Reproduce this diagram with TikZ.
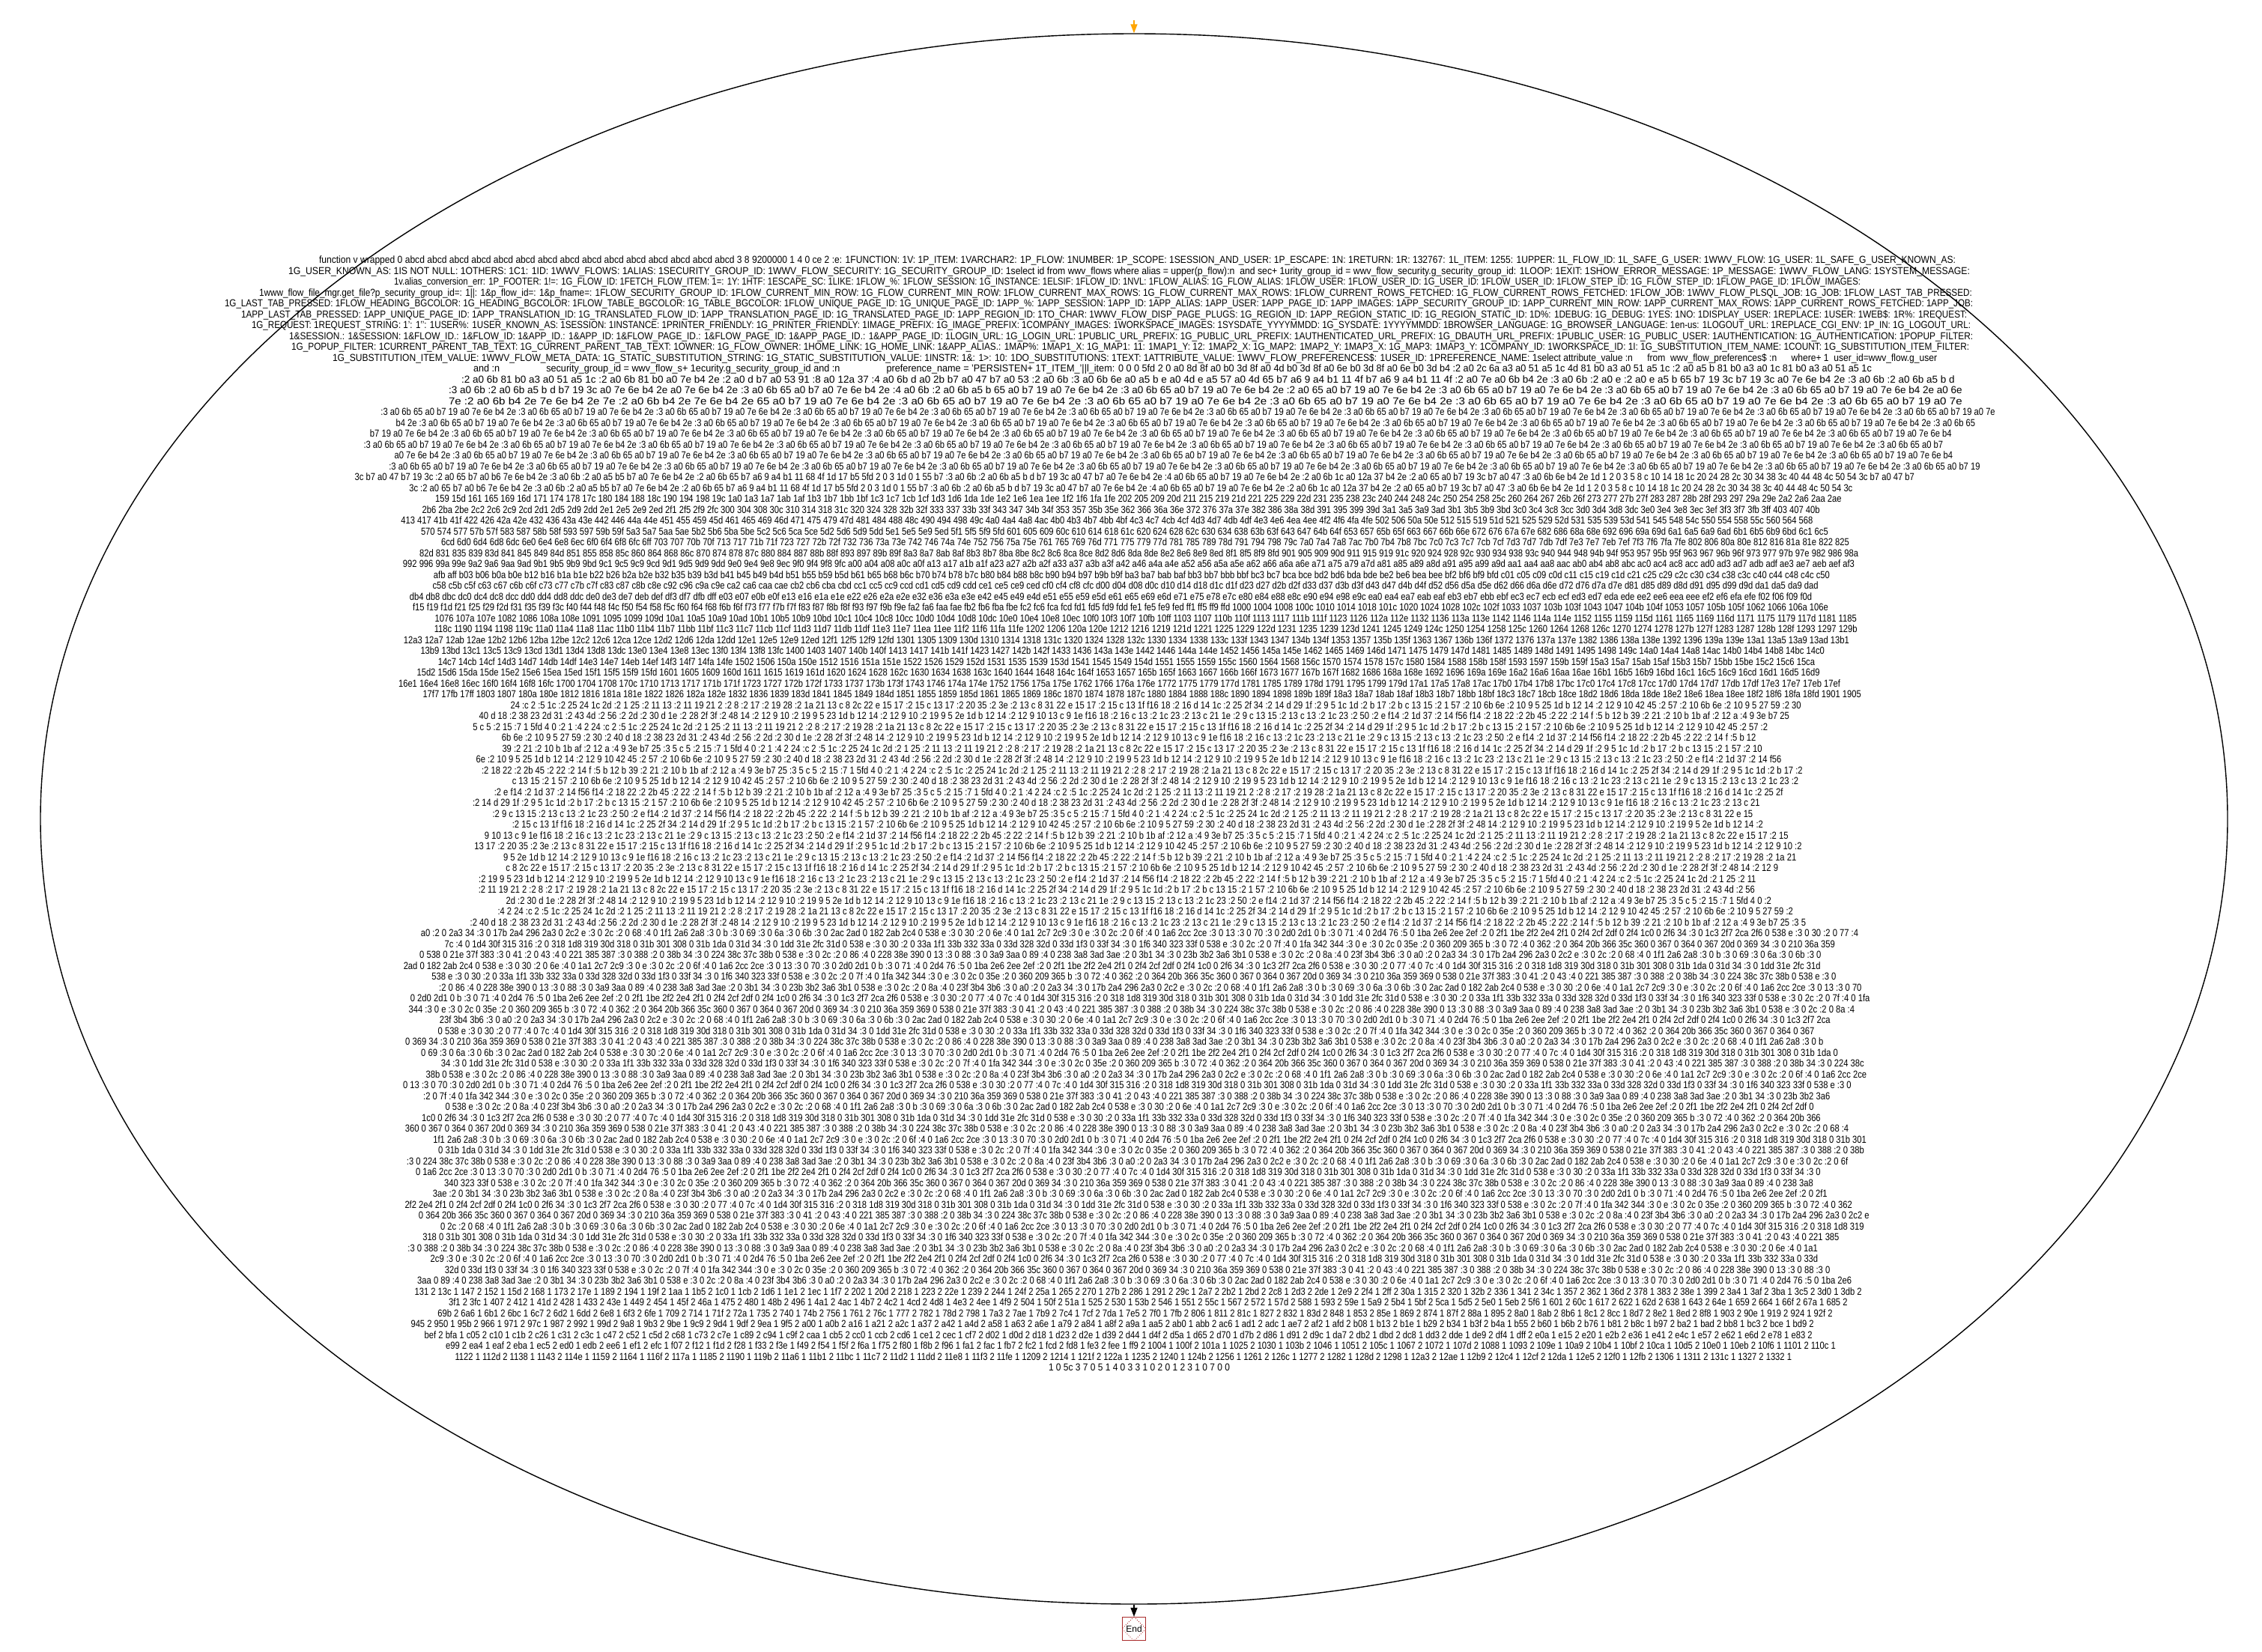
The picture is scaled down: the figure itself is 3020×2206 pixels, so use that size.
\documentclass[tikz,border=0pt]{standalone}
\usepackage{fontspec}
\setmainfont{Liberation Sans}[FakeStretch=0.83]
\newfontfamily\endfont{Liberation Sans}
\usepackage{graphicx}
\usetikzlibrary{shapes.geometric,arrows.meta}
\definecolor{endred}{RGB}{170,45,45}
\definecolor{startor}{RGB}{255,165,0}
\newbox\dumpboxA \newbox\dumpboxB \newdimen\fillwidth \newcount\hexc
\def\hexdigit#1{\ifcase#1 0\or 1\or 2\or 3\or 4\or 5\or 6\or 7\or 8\or 9\or a\or b\or c\or d\or e\or f\fi}
\def\tohex#1{\ifnum#1<16 \hexdigit{#1}\else\expandafter\tohexB\expandafter{\the\numexpr(#1-8)/16\relax}{#1}\fi}
\def\tohexB#1#2{\tohex{#1}\hexdigit{\the\numexpr#2-16*#1\relax}}
\def\tokrot#1 #2\relax{\gdef\curtok{#1}\gdef\toklist{#2 #1}}
\def\listnext{\expandafter\tokrot\toklist\relax}
\def\hexbase{345}\def\hexstep{392}
\def\hexnext{\global\advance\hexc by 1 \xdef\curtok{\noexpand\tohex{\the\numexpr\hexbase+\hexc*\hexstep/100\relax}}}
\def\hexpair{\global\advance\hexc by 1 \xdef\curtok{\noexpand\tohex{\the\numexpr\hexbase+\hexc*\hexstep/100\relax} \ifodd\hexc 1\else 2\fi}}
\let\nexttok\listnext
\def\fillstep{\nexttok
  \setbox\dumpboxB=\hbox{\unhcopy\dumpboxA\curtok\ }%
  \ifdim\wd\dumpboxB<\fillwidth
    \setbox\dumpboxA=\box\dumpboxB
    \expandafter\fillstep
  \fi}
\tikzset{dl/.style={inner sep=0pt, outer sep=0pt, font=\fontsize{13.5}{13.5}\selectfont}}
\newcommand\LY[1]{\pgfmathsetmacro\lny{349+(#1-1)*14.5}}
\newcommand\Ltxt[4]{\LY{#1}\pgfmathsetmacro\lnw{#3-#2}%
  \node[dl,anchor=west] (t#1) at (#2,\lny) {\resizebox{\lnw pt}{\height}{\strut #4}};}
\newcommand\Llist[3]{\LY{#1}\pgfmathsetmacro\lnw{#3-#2}\pgfmathsetmacro\lnx{(#2+#3)/2}%
  \node[dl] (t#1) at (\lnx,\lny) {\fillwidth=\lnw pt\relax\setbox\dumpboxA=\hbox{}\fillstep\hbox to\fillwidth{\hfil\strut\unhbox\dumpboxA\unskip\hfil}};}
\newcommand\Lj[3]{\pgfmathsetmacro\xa{#2+26*sin(#1*97)}\pgfmathsetmacro\xb{#3+34*sin(#1*53+40)}\Llist{#1}{\xa}{\xb}}

\begin{document}
\begin{tikzpicture}[x=1pt,y=-1pt]
\useasboundingbox (0,0) rectangle (3020,2206);
\node[draw, ellipse, line width=1.4pt, minimum width=2920pt, minimum height=2097pt, inner sep=0pt] (blk) at (1514,1093.5) {};

\Ltxt{1}{426}{2611}{function v wrapped 0 abcd abcd abcd abcd abcd abcd abcd abcd abcd abcd abcd abcd abcd abcd abcd 3 8 9200000 1 4 0 ce 2 :e: 1FUNCTION: 1V: 1P\_ITEM: 1VARCHAR2: 1P\_FLOW: 1NUMBER: 1P\_SCOPE: 1SESSION\_AND\_USER: 1P\_ESCAPE: 1N: 1RETURN: 1R: 132767: 1L\_ITEM: 1255: 1UPPER: 1L\_FLOW\_ID: 1L\_SAFE\_G\_USER: 1WWV\_FLOW: 1G\_USER: 1L\_SAFE\_G\_USER\_KNOWN\_AS:}
\Ltxt{2}{385}{2630}{1G\_USER\_KNOWN\_AS: 1IS NOT NULL: 1OTHERS: 1C1: 1ID: 1WWV\_FLOWS: 1ALIAS: 1SECURITY\_GROUP\_ID: 1WWV\_FLOW\_SECURITY: 1G\_SECURITY\_GROUP\_ID: 1select id from wwv\_flows where alias = upper(p\_flow):n\ \ and sec+ 1urity\_group\_id = wwv\_flow\_security.g\_security\_group\_id: 1LOOP: 1EXIT: 1SHOW\_ERROR\_MESSAGE: 1P\_MESSAGE: 1WWV\_FLOW\_LANG: 1SYSTEM\_MESSAGE:}
\Ltxt{3}{526}{2484}{1v.alias\_conversion\_err: 1P\_FOOTER: 1!=: 1G\_FLOW\_ID: 1FETCH\_FLOW\_ITEM: 1=: 1Y: 1HTF: 1ESCAPE\_SC: 1LIKE: 1FLOW\_\%: 1FLOW\_SESSION: 1G\_INSTANCE: 1ELSIF: 1FLOW\_ID: 1NVL: 1FLOW\_ALIAS: 1G\_FLOW\_ALIAS: 1FLOW\_USER: 1FLOW\_USER\_ID: 1G\_USER\_ID: 1FLOW\_USER\_ID: 1FLOW\_STEP\_ID: 1G\_FLOW\_STEP\_ID: 1FLOW\_PAGE\_ID: 1FLOW\_IMAGES:}
\Ltxt{4}{346}{2633}{1www\_flow\_file\_mgr.get\_file?p\_security\_group\_id=: 1||: 1\&p\_flow\_id=: 1\&p\_fname=: 1FLOW\_SECURITY\_GROUP\_ID: 1FLOW\_CURRENT\_MIN\_ROW: 1G\_FLOW\_CURRENT\_MIN\_ROW: 1FLOW\_CURRENT\_MAX\_ROWS: 1G\_FLOW\_CURRENT\_MAX\_ROWS: 1FLOW\_CURRENT\_ROWS\_FETCHED: 1G\_FLOW\_CURRENT\_ROWS\_FETCHED: 1FLOW\_JOB: 1WWV\_FLOW\_PLSQL\_JOB: 1G\_JOB: 1FLOW\_LAST\_TAB\_PRESSED:}
\Ltxt{5}{300}{2634}{1G\_LAST\_TAB\_PRESSED: 1FLOW\_HEADING\_BGCOLOR: 1G\_HEADING\_BGCOLOR: 1FLOW\_TABLE\_BGCOLOR: 1G\_TABLE\_BGCOLOR: 1FLOW\_UNIQUE\_PAGE\_ID: 1G\_UNIQUE\_PAGE\_ID: 1APP\_\%: 1APP\_SESSION: 1APP\_ID: 1APP\_ALIAS: 1APP\_USER: 1APP\_PAGE\_ID: 1APP\_IMAGES: 1APP\_SECURITY\_GROUP\_ID: 1APP\_CURRENT\_MIN\_ROW: 1APP\_CURRENT\_MAX\_ROWS: 1APP\_CURRENT\_ROWS\_FETCHED: 1APP\_JOB:}
\Ltxt{6}{322}{2626}{1APP\_LAST\_TAB\_PRESSED: 1APP\_UNIQUE\_PAGE\_ID: 1APP\_TRANSLATION\_ID: 1G\_TRANSLATED\_FLOW\_ID: 1APP\_TRANSLATION\_PAGE\_ID: 1G\_TRANSLATED\_PAGE\_ID: 1APP\_REGION\_ID: 1TO\_CHAR: 1WWV\_FLOW\_DISP\_PAGE\_PLUGS: 1G\_REGION\_ID: 1APP\_REGION\_STATIC\_ID: 1G\_REGION\_STATIC\_ID: 1D\%: 1DEBUG: 1G\_DEBUG: 1YES: 1NO: 1DISPLAY\_USER: 1REPLACE: 1USER: 1WEB\$: 1R\%: 1REQUEST:}
\Ltxt{7}{336}{2631}{1G\_REQUEST: 1REQUEST\_STRING: 1': 1'{}': 1USER\%: 1USER\_KNOWN\_AS: 1SESSION: 1INSTANCE: 1PRINTER\_FRIENDLY: 1G\_PRINTER\_FRIENDLY: 1IMAGE\_PREFIX: 1G\_IMAGE\_PREFIX: 1COMPANY\_IMAGES: 1WORKSPACE\_IMAGES: 1SYSDATE\_YYYYMMDD: 1G\_SYSDATE: 1YYYYMMDD: 1BROWSER\_LANGUAGE: 1G\_BROWSER\_LANGUAGE: 1en-us: 1LOGOUT\_URL: 1REPLACE\_CGI\_ENV: 1P\_IN: 1G\_LOGOUT\_URL:}
\Ltxt{8}{386}{2634}{1\&SESSION.: 1\&SESSION: 1\&FLOW\_ID.: 1\&FLOW\_ID: 1\&APP\_ID.: 1\&APP\_ID: 1\&FLOW\_PAGE\_ID.: 1\&FLOW\_PAGE\_ID: 1\&APP\_PAGE\_ID.: 1\&APP\_PAGE\_ID: 1LOGIN\_URL: 1G\_LOGIN\_URL: 1PUBLIC\_URL\_PREFIX: 1G\_PUBLIC\_URL\_PREFIX: 1AUTHENTICATED\_URL\_PREFIX: 1G\_DBAUTH\_URL\_PREFIX: 1PUBLIC\_USER: 1G\_PUBLIC\_USER: 1AUTHENTICATION: 1G\_AUTHENTICATION: 1POPUP\_FILTER:}
\Ltxt{9}{389}{2629}{1G\_POPUP\_FILTER: 1CURRENT\_PARENT\_TAB\_TEXT: 1G\_CURRENT\_PARENT\_TAB\_TEXT: 1OWNER: 1G\_FLOW\_OWNER: 1HOME\_LINK: 1G\_HOME\_LINK: 1\&APP\_ALIAS.: 1MAP\%: 1MAP1\_X: 1G\_MAP1: 11: 1MAP1\_Y: 12: 1MAP2\_X: 1G\_MAP2: 1MAP2\_Y: 1MAP3\_X: 1G\_MAP3: 1MAP3\_Y: 1COMPANY\_ID: 1WORKSPACE\_ID: 1I: 1G\_SUBSTITUTION\_ITEM\_NAME: 1COUNT: 1G\_SUBSTITUTION\_ITEM\_FILTER:}
\Ltxt{10}{444}{2586}{1G\_SUBSTITUTION\_ITEM\_VALUE: 1WWV\_FLOW\_META\_DATA: 1G\_STATIC\_SUBSTITUTION\_STRING: 1G\_STATIC\_SUBSTITUTION\_VALUE: 1INSTR: 1\&: 1>: 10: 1DO\_SUBSTITUTIONS: 1TEXT: 1ATTRIBUTE\_VALUE: 1WWV\_FLOW\_PREFERENCES\$: 1USER\_ID: 1PREFERENCE\_NAME: 1select attribute\_value :n\hspace{18pt}from\ \ wwv\_flow\_preferences\$ :n\hspace{18pt}where+ 1\ \ user\_id=wwv\_flow.g\_user}
\Ltxt{11}{632}{2499}{and :n\hspace{55pt}security\_group\_id = wwv\_flow\_s+ 1ecurity.g\_security\_group\_id and :n\hspace{55pt}preference\_name = 'PERSISTEN+ 1T\_ITEM\_'||l\_item: 0 0 0 5fd 2 0 a0 8d 8f a0 b0 3d 8f a0 4d b0 3d 8f a0 6e b0 3d 8f a0 6e b0 3d b4 :2 a0 2c 6a a3 a0 51 a5 1c 4d 81 b0 a3 a0 51 a5 1c :2 a0 a5 b 81 b0 a3 a0 1c 81 b0 a3 a0 51 a5 1c}
\Ltxt{12}{616}{2610}{:2 a0 6b 81 b0 a3 a0 51 a5 1c :2 a0 6b 81 b0 a0 7e b4 2e :2 a0 d b7 a0 53 91 :8 a0 12a 37 :4 a0 6b d a0 2b b7 a0 47 b7 a0 53 :2 a0 6b :3 a0 6b 6e a0 a5 b e a0 4d e a5 57 a0 4d 65 b7 a6 9 a4 b1 11 4f b7 a6 9 a4 b1 11 4f :2 a0 7e a0 6b b4 2e :3 a0 6b :2 a0 e :2 a0 e a5 b 65 b7 19 3c b7 19 3c a0 7e 6e b4 2e :3 a0 6b :2 a0 6b a5 b d}
\Ltxt{13}{599}{2620}{:3 a0 6b :2 a0 6b a5 b d b7 19 3c a0 7e 6e b4 2e a0 7e 6e b4 2e :3 a0 6b 65 a0 b7 a0 7e 6e b4 2e :4 a0 6b :2 a0 6b a5 b 65 a0 b7 19 a0 7e 6e b4 2e :3 a0 6b 65 a0 b7 19 a0 7e 6e b4 2e :2 a0 65 a0 b7 19 a0 7e 6e b4 2e :3 a0 6b 65 a0 b7 19 a0 7e 6e b4 2e :3 a0 6b 65 a0 b7 19 a0 7e 6e b4 2e :3 a0 6b 65 a0 b7 19 a0 7e 6e b4 2e a0 6e}
\Ltxt{14}{599}{2620}{7e :2 a0 6b b4 2e 7e 6e b4 2e 7e :2 a0 6b b4 2e 7e 6e b4 2e 65 a0 b7 19 a0 7e 6e b4 2e :3 a0 6b 65 a0 b7 19 a0 7e 6e b4 2e :3 a0 6b 65 a0 b7 19 a0 7e 6e b4 2e :3 a0 6b 65 a0 b7 19 a0 7e 6e b4 2e :3 a0 6b 65 a0 b7 19 a0 7e 6e b4 2e :3 a0 6b 65 a0 b7 19 a0 7e 6e b4 2e :3 a0 6b 65 a0 b7 19 a0 7e}

\gdef\toklist{:3 a0 6b 65 a0 b7 19 a0 7e 6e b4 2e}
\foreach \n in {15,...,20}{\Lj{\n}{500}{2635}}
\gdef\toklist{3c b7 a0 47 b7 19 3c :2 a0 65 b7 a0 b6 7e 6e b4 2e :3 a0 6b :2 a0 a5 b5 b7 a0 7e 6e b4 2e :2 a0 6b 65 b7 a6 9 a4 b1 11 68 4f 1d 17 b5 5fd 2 0 3 1d 0 1 55 b7 :3 a0 6b :2 a0 6b a5 b d b7 19 3c a0 47 b7 a0 7e 6e b4 2e :4 a0 6b 65 a0 b7 19 a0 7e 6e b4 2e :2 a0 6b 1c a0 12a 37 b4 2e :2 a0 65 a0 b7 19 3c b7 a0 47 :3 a0 6b 6e b4 2e 1d 1 2 0 3 5 8 c 10 14 18 1c 20 24 28 2c 30 34 38 3c 40 44 48 4c 50 54}
\Llist{21}{470}{2560}
\Llist{22}{540}{2480}
\global\hexc=-1 \def\hexbase{345}\def\hexstep{392}\let\nexttok\hexnext
\foreach \n in {23,...,41}{\Lj{\n}{555}{2460}}
\let\nexttok\listnext
\gdef\toklist{24 :c 2 :5 1c :2 25 24 1c 2d :2 1 25 :2 11 13 :2 11 19 21 2 :2 8 :2 17 :2 19 28 :2 1a 21 13 c 8 2c 22 e 15 17 :2 15 c 13 17 :2 20 35 :2 3e :2 13 c 8 31 22 e 15 17 :2 15 c 13 1f f16 18 :2 16 d 14 1c :2 25 2f 34 :2 14 d 29 1f :2 9 5 1c 1d :2 b 17 :2 b c 13 15 :2 1 57 :2 10 6b 6e :2 10 9 5 25 1d b 12 14 :2 12 9 10 42 45 :2 57 :2 10 6b 6e :2 10 9 5 27 59 :2 30 :2 40 d 18 :2 38 23 2d 31 :2 43 4d :2 56 :2 2d :2 30 d 1e :2 28 2f 3f :2 48 14 :2 12 9 10 :2 19 9 5 23 1d b 12 14 :2 12 9 10 :2 19 9 5 2e 1d b 12 14 :2 12 9 10 13 c 9 1e f16 18 :2 16 c 13 :2 1c 23 :2 13 c 21 1e :2 9 c 13 15 :2 13 c 13 :2 1c 23 :2 50 :2 e f14 :2 1d 37 :2 14 f56 f14 :2 18 22 :2 2b 45 :2 22 :2 14 f :5 b 12 b 39 :2 21 :2 10 b 1b af :2 12 a :4 9 3e b7 25 :3 5 c 5 :2 15 :7 1 5fd 4 0 :2 1 :4 2}
\foreach \n in {42,...,62}{\Lj{\n}{650}{2380}}
\gdef\toklist{a0 :2 0 2a3 34 :3 0 17b 2a4 296 2a3 0 2c2 e :3 0 2c :2 0 68 :4 0 1f1 2a6 2a8 :3 0 b :3 0 69 :3 0 6a :3 0 6b :3 0 2ac 2ad 0 182 2ab 2c4 0 538 e :3 0 30 :2 0 6e :4 0 1a1 2c7 2c9 :3 0 e :3 0 2c :2 0 6f :4 0 1a6 2cc 2ce :3 0 13 :3 0 70 :3 0 2d0 2d1 0 b :3 0 71 :4 0 2d4 76 :5 0 1ba 2e6 2ee 2ef :2 0 2f1 1be 2f2 2e4 2f1 0 2f4 2cf 2df 0 2f4 1c0 0 2f6 34 :3 0 1c3 2f7 2ca 2f6 0 538 e :3 0 30 :2 0 77 :4 0 7c :4 0 1d4 30f 315 316 :2 0 318 1d8 319 30d 318 0 31b 301 308 0 31b 1da 0 31d 34 :3 0 1dd 31e 2fc 31d 0 538 e :3 0 30 :2 0 33a 1f1 33b 332 33a 0 33d 328 32d 0 33d 1f3 0 33f 34 :3 0 1f6 340 323 33f 0 538 e :3 0 2c :2 0 7f :4 0 1fa 342 344 :3 0 e :3 0 2c 0 35e :2 0 360 209 365 b :3 0 72 :4 0 362 :2 0 364 20b 366 35c 360 0 367 0 364 0 367 20d 0 369 34 :3 0 210 36a 359 369 0 538 0 21e 37f 383 :3 0 41 :2 0 43 :4 0 221 385 387 :3 0 388 :2 0 38b 34 :3 0 224 38c 37c 38b 0 538 e :3 0 2c :2 0 86 :4 0 228 38e 390 0 13 :3 0 88 :3 0 3a9 3aa 0 89 :4 0 238 3a8 3ad 3ae :2 0 3b1 34 :3 0 23b 3b2 3a6 3b1 0 538 e :3 0 2c :2 0 8a :4 0 23f 3b4 3b6 :3 0}
\foreach \n in {63,...,95}{\Lj{\n}{560}{2465}}
\global\hexc=-1 \def\hexbase{305}\def\hexstep{1100}\let\nexttok\hexpair
\foreach \n in {96,...,101}{\Lj{\n}{565}{2460}}
\Llist{102}{600}{2400}
\let\nexttok\listnext
\Ltxt{103}{1400}{1642}{1 0 5c 3 7 0 5 1 4 0 3 3 1 0 2 0 1 2 3 1 0 7 0 0}

\coordinate (st) at (1514,27);
\draw[startor, line width=1.5pt, -{Triangle[length=12pt,width=9pt]}] (st) -- (blk.north);
\node[draw=endred, line width=1.2pt, minimum size=31pt, inner sep=0pt, font=\endfont\fontsize{12}{12}\selectfont] (end) at (1514,2175) {End};
\draw[endred, dotted, line width=0.9pt] (end.north) -- (end.east) -- (end.south) -- (end.west) -- cycle;
\draw[line width=1.3pt, -{Triangle[length=12pt,width=9pt]}] (blk.south) -- (end.north);
\end{tikzpicture}
\end{document}
